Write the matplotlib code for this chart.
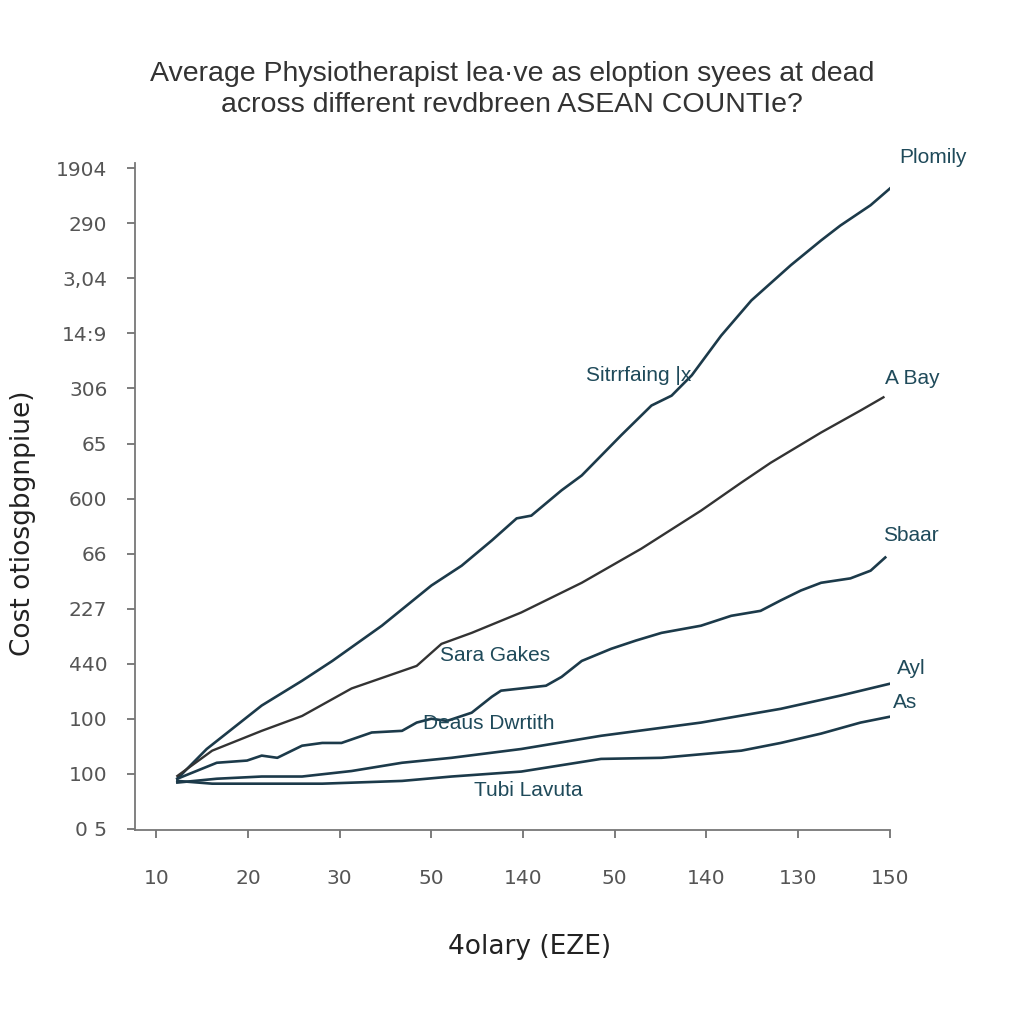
import matplotlib.pyplot as plt

x_labels = ['10', '20', '30', '50', '140', '50', '140', '130', '150']
y_labels = ['0 5', '100', '100', '440', '227', '66', '600', '65', '306', '14:9', '3,04', '290', '1904']

plomily_x = [0.23, 0.55, 1.15, 1.59, 1.92, 2.46, 3.00, 3.33, 3.66, 3.93, 4.09, 4.42, 4.64, 5.07, 5.40, 5.62, 5.84, 6.16, 6.49, 6.92, 7.25, 7.46, 7.79, 8.04]
plomily_y = [0.91, 1.45, 2.24, 2.69, 3.05, 3.69, 4.42, 4.78, 5.24, 5.64, 5.69, 6.15, 6.42, 7.15, 7.69, 7.87, 8.24, 8.96, 9.60, 10.24, 10.69, 10.96, 11.33, 11.69]

abay_x = [0.23, 0.61, 1.15, 1.59, 2.13, 2.84, 3.11, 3.44, 3.98, 4.64, 5.29, 5.94, 6.38, 6.70, 7.25, 7.68, 7.93]
abay_y = [0.96, 1.42, 1.78, 2.05, 2.55, 2.96, 3.36, 3.56, 3.93, 4.47, 5.09, 5.78, 6.29, 6.65, 7.20, 7.60, 7.84]

sbaar_x = [0.23, 0.66, 0.99, 1.15, 1.32, 1.59, 1.81, 2.02, 2.35, 2.68, 2.84, 3.00, 3.17, 3.44, 3.66, 3.76, 3.98, 4.25, 4.42, 4.64, 4.96, 5.23, 5.51, 5.94, 6.27, 6.59, 6.81, 7.03, 7.25, 7.57, 7.79, 7.95]
sbaar_y = [0.91, 1.20, 1.24, 1.33, 1.29, 1.51, 1.56, 1.56, 1.75, 1.78, 1.93, 2.00, 1.96, 2.11, 2.40, 2.51, 2.55, 2.60, 2.76, 3.05, 3.27, 3.42, 3.56, 3.69, 3.87, 3.96, 4.15, 4.33, 4.47, 4.55, 4.69, 4.93]

ayl_x = [0.23, 0.66, 1.15, 1.59, 2.13, 2.68, 3.22, 3.98, 4.85, 5.94, 6.81, 7.46, 8.01]
ayl_y = [0.84, 0.91, 0.95, 0.95, 1.05, 1.20, 1.29, 1.45, 1.69, 1.93, 2.18, 2.42, 2.64]

as_x = [0.23, 0.61, 1.15, 1.81, 2.68, 3.22, 3.98, 4.85, 5.51, 6.38, 6.81, 7.25, 7.68, 8.01]
as_y = [0.87, 0.82, 0.82, 0.82, 0.87, 0.95, 1.04, 1.27, 1.29, 1.42, 1.56, 1.73, 1.93, 2.04]

fig = plt.figure(figsize=(10.24, 10.24), dpi=100)
ax = fig.add_axes([0.132, 0.189, 0.737, 0.652])

navy = '#1c3a4a'
ax.plot(plomily_x, plomily_y, color=navy, lw=1.9)
ax.plot(abay_x, abay_y, color='#333333', lw=1.7)
ax.plot(sbaar_x, sbaar_y, color=navy, lw=1.9)
ax.plot(ayl_x, ayl_y, color=navy, lw=1.9)
ax.plot(as_x, as_y, color=navy, lw=1.9)

# labels next to the lines
lab_c = '#1f4a5a'
labels = [
    ('Plomily', 8.47, 12.2), ('Sitrrfaing |x', 5.26, 8.24), ('A Bay', 8.24, 8.18),
    ('Sbaar', 8.23, 5.33), ('Sara Gakes', 3.69, 3.15), ('Ayl', 8.23, 2.91),
    ('As', 8.17, 2.29), ('Deaus Dwrtith', 3.63, 1.91), ('Tubi Lavuta', 4.06, 0.69),
]
for t, x, y in labels:
    ax.text(x, y, t, fontsize=15, color=lab_c, ha='center', va='center', family='Liberation Sans')

ax.set_xlim(-0.23, 8.0)
ax.set_ylim(-0.03, 12.1)
ax.set_xticks(range(9))
ax.set_xticklabels(x_labels)
ax.set_yticks(range(13))
ax.set_yticklabels(y_labels)
ax.tick_params(axis='both', colors='#666666', labelcolor='#555555', labelsize=14.5, length=6, width=1.2)
ax.tick_params(axis='x', pad=22)
ax.tick_params(axis='y', pad=14)
for s in ['top', 'right']:
    ax.spines[s].set_visible(False)
for s in ['left', 'bottom']:
    ax.spines[s].set_color('#777777')
    ax.spines[s].set_linewidth(1.3)

ax.set_xlabel('4olary (EZE)', fontsize=19, color='#222222')
ax.xaxis.set_label_coords(0.523, -0.155)
ax.set_ylabel('Cost otiosgbgnpiue)', fontsize=19, color='#222222')
ax.yaxis.set_label_coords(-0.132, 0.46)

fig.suptitle('Average Physiotherapist lea·ve as eloption syees at dead\nacross different revdbreen ASEAN COUNTIe?',
             y=0.94, fontsize=20.5, color='#333333', family='Liberation Sans', linespacing=1.25)

fig.savefig('out.png', dpi=100, facecolor='white')
